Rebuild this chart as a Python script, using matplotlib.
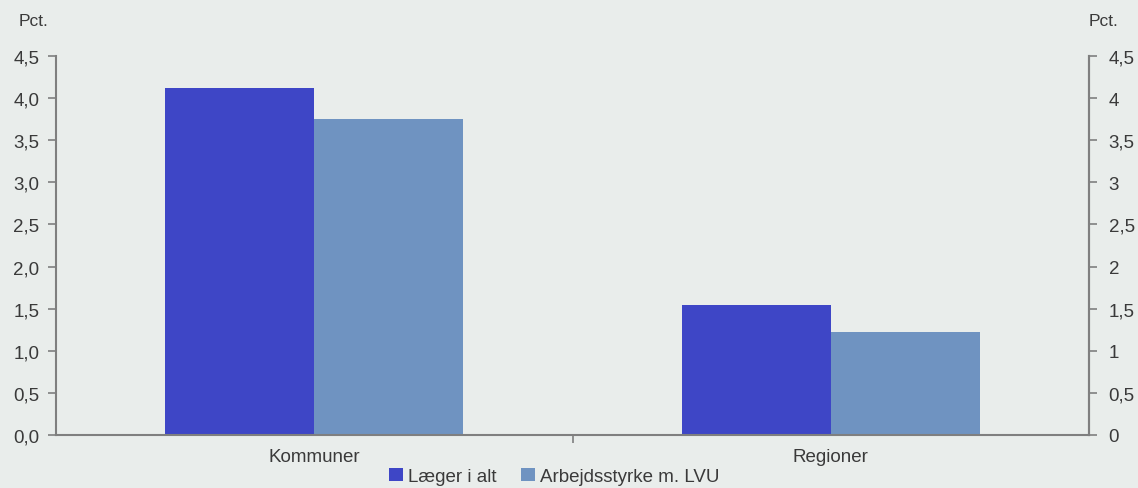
import matplotlib.pyplot as plt
import numpy as np

plt.rcParams['font.family'] = ['Liberation Sans', 'DejaVu Sans']

categories = ["Kommuner", "Regioner"]
laeger = [4.12, 1.54]
arbejdsstyrke = [3.75, 1.22]
series_names = ["Læger i alt", "Arbejdsstyrke m. LVU"]
left_ticks = [0, 0.5, 1, 1.5, 2, 2.5, 3, 3.5, 4, 4.5]
left_labels = ["0,0", "0,5", "1,0", "1,5", "2,0", "2,5", "3,0", "3,5", "4,0", "4,5"]
right_labels = ["0", "0,5", "1", "1,5", "2", "2,5", "3", "3,5", "4", "4,5"]

bg = "#e9edeb"
c1 = "#3e46c6"
c2 = "#6f93c1"
spine = "#7f7f7f"
txt = "#3a3a3a"
fs = 13.5

fig = plt.figure(figsize=(11.38, 4.89), dpi=100, facecolor=bg)
ax = fig.add_axes([0.0492, 0.1084, 0.9078, 0.775])
ax.set_facecolor(bg)

x = np.arange(len(categories))
w = 0.288
b1 = ax.bar(x - w / 2, laeger, w, color=c1, label=series_names[0])
b2 = ax.bar(x + w / 2, arbejdsstyrke, w, color=c2, label=series_names[1])

ax.set_xlim(-0.5, 1.5)
ax.set_ylim(0, 4.5)
ax.set_yticks(left_ticks)
ax.set_yticklabels(left_labels)
ax.set_xticks([0.5])
ax.set_xticklabels([""])
for i, c in enumerate(categories):
    ax.text(x[i], -0.15, c, ha="center", va="top", fontsize=fs, color=txt)

ax.spines["top"].set_visible(False)
for s in ["left", "right", "bottom"]:
    ax.spines[s].set_color(spine)
    ax.spines[s].set_linewidth(1.5)
ax.tick_params(axis="y", direction="out", length=6, width=1.2, color=spine, pad=6,
               labelsize=fs, labelcolor=txt)
ax.tick_params(axis="x", direction="out", length=6, width=1.2, color=spine)

ax2 = ax.twinx()
ax2.set_ylim(0, 4.5)
ax2.set_yticks(left_ticks)
ax2.set_yticklabels(right_labels)
for s in ["top", "left", "bottom"]:
    ax2.spines[s].set_visible(False)
ax2.spines["right"].set_color(spine)
ax2.spines["right"].set_linewidth(1.5)
ax2.tick_params(axis="y", direction="out", length=6, width=1.2, color=spine, pad=8,
                labelsize=fs, labelcolor=txt)

fig.text(0.016, 0.957, "Pct.", fontsize=fs - 1, color=txt, ha="left", va="center")
fig.text(0.957, 0.957, "Pct.", fontsize=fs - 1, color=txt, ha="left", va="center")

fig.legend(handles=[b1, b2], labels=series_names, loc="center", bbox_to_anchor=(0.487, 0.024),
           ncol=2, frameon=False, fontsize=fs, handlelength=0.75, handleheight=0.75,
           handletextpad=0.25, columnspacing=1.3, labelcolor=txt, borderpad=0)

plt.savefig("out.png", dpi=100, facecolor=bg)
